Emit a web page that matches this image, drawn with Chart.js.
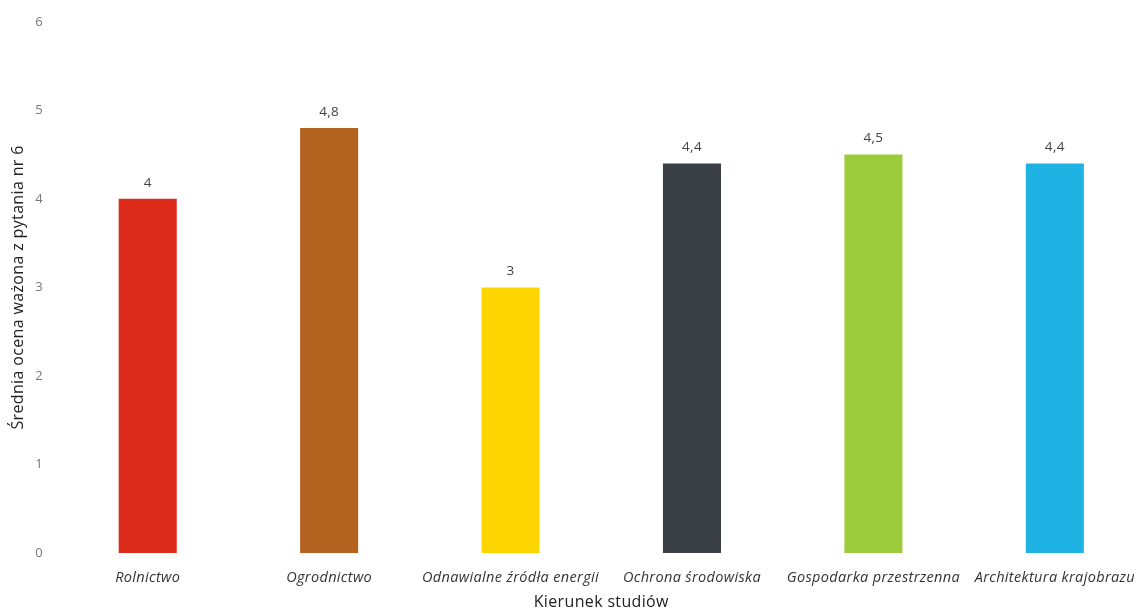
<!DOCTYPE html>
<html>
<head>
<meta charset="utf-8">
<script src="https://cdn.jsdelivr.net/npm/chart.js@4.4.0/dist/chart.umd.min.js"></script>
<style>
  html, body { margin: 0; padding: 0; background: #fff; overflow: hidden; }
  #wrap { width: 1138px; height: 612px; overflow: hidden; }
</style>
</head>
<body>
<div id="wrap"><canvas id="chart" width="1151" height="612"></canvas></div>
<script>
'use strict';

// ── Data ────────────────────────────────────────────────────────────────
const categories = [
    'Rolnictwo',
    'Ogrodnictwo',
    'Odnawialne źródła energii',
    'Ochrona środowiska',
    'Gospodarka przestrzenna',
    'Architektura krajobrazu'
];
const scores = [4, 4.8, 3, 4.4, 4.5, 4.4];
const barColors = ['#de2c1c', '#b4621f', '#fdd600', '#3a3f45', '#9ccb3b', '#1fb3e3'];
const yTicks = [0, 1, 2, 3, 4, 5, 6];

const FONT = '"Open Sans", "DejaVu Sans", sans-serif';

// the source uses a slightly tracked-out typeface
const spacing = {
    id: 'spacing',
    beforeUpdate(chart) { chart.ctx.letterSpacing = '0.35px'; },
    beforeDraw(chart) { chart.ctx.letterSpacing = '0.35px'; }
};

// value labels above bars, Polish decimal comma
const valueLabels = {
    id: 'valueLabels',
    afterDatasetsDraw(chart) {
        const ctx = chart.ctx;
        const meta = chart.getDatasetMeta(0);
        ctx.save();
        ctx.font = '13.5px ' + FONT;
        ctx.fillStyle = '#444';
        ctx.textAlign = 'center';
        ctx.textBaseline = 'middle';
        meta.data.forEach((bar, i) => {
            ctx.fillText(String(scores[i]).replace('.', ','), bar.x, bar.y - 16);
        });
        ctx.restore();
    }
};

new Chart(document.getElementById('chart').getContext('2d'), {
    type: 'bar',
    data: {
        labels: categories,
        datasets: [{
            data: scores,
            backgroundColor: barColors,
            borderWidth: 0,
            categoryPercentage: 1,
            barPercentage: 0.32
        }]
    },
    options: {
        responsive: false,
        animation: false,
        layout: { padding: { top: 20, right: 0, bottom: 0, left: 0 } },
        plugins: { legend: { display: false }, tooltip: { enabled: false } },
        scales: {
            x: {
                grid: { display: false, drawTicks: false },
                border: { display: false },
                ticks: {
                    color: '#333',
                    padding: 16,
                    maxRotation: 0,
                    autoSkip: false,
                    font: { family: FONT, size: 14.5, style: 'italic' }
                },
                title: {
                    display: true,
                    text: 'Kierunek studiów',
                    color: '#222',
                    padding: { top: 0, bottom: 0 },
                    font: { family: FONT, size: 16 }
                },
                afterFit(scale) { scale.height = 59; }
            },
            y: {
                min: 0,
                max: 6,
                afterBuildTicks(scale) { scale.ticks = yTicks.map(v => ({ value: v })); },
                grid: { display: false, drawTicks: false },
                border: { display: false },
                ticks: {
                    color: '#777',
                    padding: 14,
                    font: { family: FONT, size: 13 }
                },
                title: {
                    display: true,
                    text: 'Średnia ocena ważona z pytania nr 6',
                    color: '#222',
                    padding: { top: 9, bottom: 0 },
                    font: { family: FONT, size: 16 }
                },
                afterFit(scale) { scale.width = 57; }
            }
        }
    },
    plugins: [spacing, valueLabels]
});
</script>
</body>
</html>
